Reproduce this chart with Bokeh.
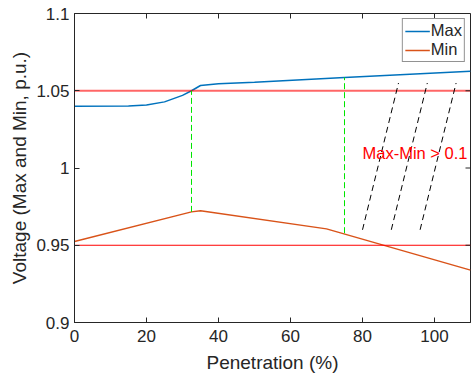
import math
from bokeh.plotting import figure
from bokeh.models import Range1d, FixedTicker, Legend, LegendItem
from bokeh.core.properties import value
from bokeh.embed import file_html
from bokeh.resources import INLINE

# ---- data ----
max_x = [0, 15, 20, 25, 30, 32.5, 35, 40, 50, 75, 110]
max_v = [1.040, 1.0401, 1.0408, 1.0428, 1.047, 1.050, 1.0534, 1.0545, 1.0555, 1.0586, 1.0627]
min_x = [0, 32.5, 35, 70, 110]
min_v = [0.9524, 0.9716, 0.9724, 0.9606, 0.9339]
upper_limit = 1.05
lower_limit = 0.95
vline_x = [32.5, 75]
vline_top = [1.050, 1.0586]
vline_bottom = [0.9716, 0.9578]
hatch_x0 = [80, 88, 96]
hatch_x1 = [90, 98, 106]
hatch_y0 = [0.96, 0.96, 0.96]
hatch_y1 = [1.055, 1.055, 1.055]
note_text = "Max-Min > 0.1"
note_x = 80
note_y = 1.0097
x_ticks = [0, 20, 40, 60, 80, 100]
y_ticks = [0.9, 0.95, 1.0, 1.05, 1.1]
x_lim = [0, 110]
y_lim = [0.9, 1.1]

FONT = "Liberation Sans"
AX = "#262626"

p = figure(width=471, height=375, output_backend="svg", toolbar_location=None,
           x_range=Range1d(*x_lim), y_range=Range1d(*y_lim),
           min_border_left=74, min_border_right=1, min_border_top=13, min_border_bottom=53)
p.grid.visible = False
p.outline_line_color = AX
p.background_fill_color = "white"

l_max = p.line(max_x, max_v, line_color="#0072BD", line_width=1.5)
l_min = p.line(min_x, min_v, line_color="#D95319", line_width=1.5)

p.line(x_lim, [upper_limit, upper_limit], line_color="#ff0000", line_alpha=0.6, line_width=2)
p.line(x_lim, [lower_limit, lower_limit], line_color="#ff0000", line_width=1)

p.segment(x0=vline_x, x1=vline_x, y0=vline_bottom, y1=vline_top,
          line_color="#00e600", line_width=1, line_dash="6 3")
p.segment(x0=hatch_x0, x1=hatch_x1, y0=hatch_y0, y1=hatch_y1,
          line_color="black", line_width=1, line_dash="6 4")

p.text(x=[note_x], y=[note_y], text=[note_text], text_color="#ff0000",
       text_font=value(FONT), text_font_size="16.5px", text_baseline="middle", text_align="left")

# mirrored ticks on the top and right frame edges
p.scatter(x=x_ticks, y=[y_lim[1]] * len(x_ticks), marker="dash", size=10, angle=math.pi / 2,
          line_color=AX, line_width=1)
p.scatter(x=[x_lim[1]] * len(y_ticks), y=y_ticks, marker="dash", size=10,
          line_color=AX, line_width=1)

def style_axis(ax):
    ax.major_tick_in = 5
    ax.major_tick_out = 0
    ax.minor_tick_in = 0
    ax.minor_tick_out = 0
    ax.axis_line_color = AX
    ax.major_tick_line_color = AX
    ax.major_label_text_color = AX
    ax.major_label_text_font = FONT
    ax.major_label_text_font_size = "17px"
    ax.axis_label_text_font = FONT
    ax.axis_label_text_font_size = "19px"
    ax.axis_label_text_font_style = "normal"
    ax.axis_label_text_color = AX

xa = p.xaxis[0]
xa.ticker = FixedTicker(ticks=x_ticks)
style_axis(xa)
xa.axis_label = "Penetration (%)"
xa.major_label_standoff = 7
xa.axis_label_standoff = 7
xa.major_label_overrides = {0: "0", 20: "20", 40: "40", 60: "60", 80: "80", 100: "100"}

ya = p.yaxis[0]
ya.ticker = FixedTicker(ticks=y_ticks)
style_axis(ya)
ya.axis_label = "Voltage (Max and Min, p.u.)"
ya.major_label_standoff = 5
ya.axis_label_standoff = 3
ya.major_label_overrides = {0.9: "0.9", 0.95: "0.95", 1.0: "1", 1.05: "1.05", 1.1: "1.1"}

legend = Legend(items=[LegendItem(label="Max", renderers=[l_max]),
                       LegendItem(label="Min", renderers=[l_min])],
                location="top_right")
legend.label_text_font = FONT
legend.label_text_font_size = "16.5px"
legend.label_text_color = AX
legend.border_line_color = AX
legend.border_line_width = 1
legend.background_fill_alpha = 1
legend.glyph_width = 25
legend.glyph_height = 18
legend.label_standoff = 1
legend.label_height = 18
legend.spacing = 0
legend.padding = 2
legend.margin = 5
p.add_layout(legend, "center")

open("out.html", "w").write(file_html(p, INLINE))
